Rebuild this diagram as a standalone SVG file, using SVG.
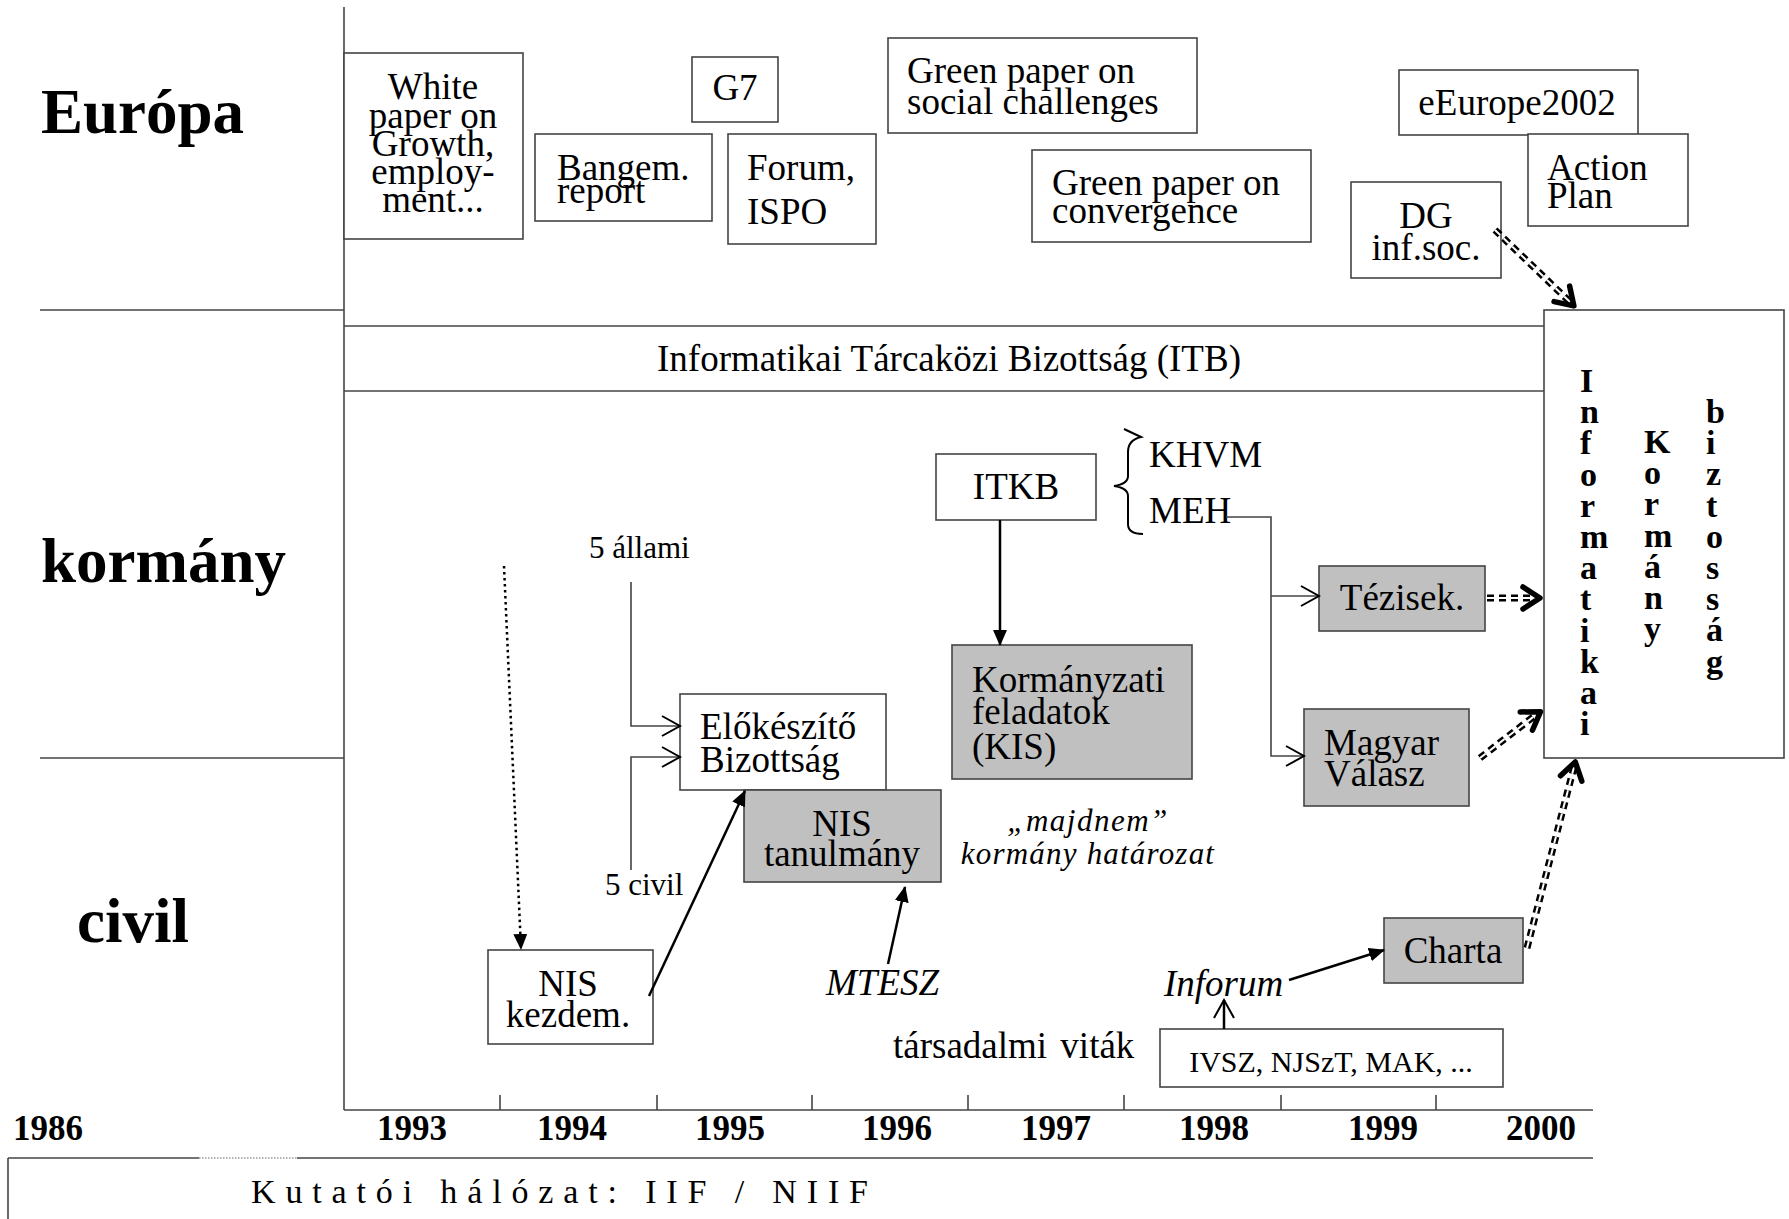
<svg xmlns="http://www.w3.org/2000/svg" width="1789" height="1219" viewBox="0 0 1789 1219">
<defs>
<style>
text{font-family:"Liberation Serif","Times New Roman",serif;fill:#000}
.t{font-size:37px}
.s{font-size:31px}
.lab{font-size:63px;font-weight:bold}
.yr{font-size:35px;font-weight:bold;text-anchor:middle}
.v{font-size:34px;font-weight:bold}
.it{font-style:italic}
.box{fill:#fff;stroke:#444;stroke-width:1.6}
.gbox{fill:#c0c0c0;stroke:#444;stroke-width:1.6}
.ln{fill:none;stroke:#444;stroke-width:1.6}
.arr{fill:none;stroke:#000;stroke-width:2.5}
.dd1{fill:none;stroke:#000;stroke-width:7;stroke-dasharray:7 5}
.dd2{fill:none;stroke:#fff;stroke-width:2;stroke-dasharray:7 5}
</style>
<marker id="tri" markerUnits="userSpaceOnUse" markerWidth="16" markerHeight="14" viewBox="0 0 16 14" refX="15" refY="7" orient="auto"><path d="M0,0 L16,7 L0,14 z" fill="#000"/></marker>
<marker id="open" markerUnits="userSpaceOnUse" markerWidth="22" markerHeight="24" viewBox="-20 -12 22 24" refX="0" refY="0" orient="auto"><path d="M-18,-10 L0,0 L-18,10" fill="none" stroke="#000" stroke-width="2"/></marker>
<marker id="chev" markerUnits="userSpaceOnUse" markerWidth="32" markerHeight="32" viewBox="-26 -16 32 32" refX="0" refY="0" orient="auto"><path d="M-20,-11 L-3,0 L-20,11" fill="none" stroke="#000" stroke-width="5.5" stroke-linecap="round" stroke-linejoin="round"/></marker>
</defs>
<rect width="1789" height="1219" fill="#fff"/>

<g id="frame">
<line class="ln" x1="344" y1="7" x2="344" y2="1110"/>
<line class="ln" x1="40" y1="310" x2="344" y2="310"/>
<line class="ln" x1="40" y1="758" x2="344" y2="758"/>
<line class="ln" x1="344" y1="1110" x2="1593" y2="1110"/>
<g class="ln">
<line x1="500" y1="1095" x2="500" y2="1110"/>
<line x1="657" y1="1095" x2="657" y2="1110"/>
<line x1="812" y1="1095" x2="812" y2="1110"/>
<line x1="968" y1="1095" x2="968" y2="1110"/>
<line x1="1124" y1="1095" x2="1124" y2="1110"/>
<line x1="1281" y1="1095" x2="1281" y2="1110"/>
<line x1="1436" y1="1095" x2="1436" y2="1110"/>
</g>
<line class="ln" x1="8" y1="1158" x2="199" y2="1158"/>
<line x1="199" y1="1158" x2="297" y2="1158" stroke="#999" stroke-width="1.6" stroke-dasharray="1.5 1.5"/>
<line class="ln" x1="297" y1="1158" x2="1593" y2="1158"/>
<line class="ln" x1="8" y1="1158" x2="8" y2="1219"/>
</g>

<g id="labels">
<text class="lab" x="41" y="133">Európa</text>
<text class="lab" x="41" y="582">kormány</text>
<text class="lab" x="77" y="942">civil</text>
<text class="yr" x="48" y="1140">1986</text>
<text class="yr" x="412" y="1140">1993</text>
<text class="yr" x="572" y="1140">1994</text>
<text class="yr" x="730" y="1140">1995</text>
<text class="yr" x="897" y="1140">1996</text>
<text class="yr" x="1056" y="1140">1997</text>
<text class="yr" x="1214" y="1140">1998</text>
<text class="yr" x="1383" y="1140">1999</text>
<text class="yr" x="1541" y="1140">2000</text>
<text x="251" y="1203" style="font-size:34px" textLength="617" lengthAdjust="spacing">Kutatói hálózat: IIF / NIIF</text>
</g>

<g id="white-paper">
<rect class="box" x="344" y="53" width="179" height="186"/>
<text class="t" text-anchor="middle"><tspan x="433" y="99">White</tspan><tspan x="433" y="128">paper on</tspan><tspan x="433" y="156">Growth,</tspan><tspan x="433" y="184">employ-</tspan><tspan x="433" y="212">ment...</tspan></text>
</g>
<g id="bangem">
<rect class="box" x="535" y="134" width="177" height="87"/>
<text class="t"><tspan x="557" y="180">Bangem.</tspan><tspan x="557" y="203">report</tspan></text>
</g>
<g id="g7">
<rect class="box" x="692" y="57" width="86" height="65"/>
<text class="t" x="735" y="100" text-anchor="middle">G7</text>
</g>
<g id="forum">
<rect class="box" x="728" y="134" width="148" height="110"/>
<text class="t"><tspan x="747" y="180">Forum,</tspan><tspan x="747" y="224">ISPO</tspan></text>
</g>
<g id="green-social">
<rect class="box" x="888" y="38" width="309" height="95"/>
<text class="t"><tspan x="907" y="83">Green paper on</tspan><tspan x="907" y="114">social challenges</tspan></text>
</g>
<g id="green-conv">
<rect class="box" x="1032" y="150" width="279" height="92"/>
<text class="t"><tspan x="1052" y="195">Green paper on</tspan><tspan x="1052" y="223">convergence</tspan></text>
</g>
<g id="eeurope">
<rect class="box" x="1399" y="70" width="239" height="65"/>
<text class="t" x="1517" y="115" text-anchor="middle">eEurope2002</text>
</g>
<g id="action-plan">
<rect class="box" x="1528" y="134" width="160" height="92"/>
<text class="t"><tspan x="1547" y="180">Action</tspan><tspan x="1547" y="208">Plan</tspan></text>
</g>
<g id="dg">
<rect class="box" x="1351" y="182" width="150" height="96"/>
<text class="t" text-anchor="middle"><tspan x="1426" y="228">DG</tspan><tspan x="1426" y="260">inf.soc.</tspan></text>
</g>

<g id="itb">
<line class="ln" x1="344" y1="326" x2="1544" y2="326"/>
<line class="ln" x1="344" y1="391" x2="1544" y2="391"/>
<text class="t" x="949" y="371" text-anchor="middle">Informatikai Tárcaközi Bizottság (ITB)</text>
</g>

<g id="ikb">
<rect class="box" x="1544" y="310" width="240" height="448"/>
<text class="v"><tspan x="1580" y="392">I</tspan><tspan x="1580" dy="31.2">n</tspan><tspan x="1580" dy="31.2">f</tspan><tspan x="1580" dy="31.2">o</tspan><tspan x="1580" dy="31.2">r</tspan><tspan x="1580" dy="31.2">m</tspan><tspan x="1580" dy="31.2">a</tspan><tspan x="1580" dy="31.2">t</tspan><tspan x="1580" dy="31.2">i</tspan><tspan x="1580" dy="31.2">k</tspan><tspan x="1580" dy="31.2">a</tspan><tspan x="1580" dy="31.2">i</tspan></text>
<text class="v"><tspan x="1644" y="453">K</tspan><tspan x="1644" dy="31.2">o</tspan><tspan x="1644" dy="31.2">r</tspan><tspan x="1644" dy="31.2">m</tspan><tspan x="1644" dy="31.2">á</tspan><tspan x="1644" dy="31.2">n</tspan><tspan x="1644" dy="31.2">y</tspan></text>
<text class="v"><tspan x="1706" y="423">b</tspan><tspan x="1706" dy="31.2">i</tspan><tspan x="1706" dy="31.2">z</tspan><tspan x="1706" dy="31.2">t</tspan><tspan x="1706" dy="31.2">o</tspan><tspan x="1706" dy="31.2">s</tspan><tspan x="1706" dy="31.2">s</tspan><tspan x="1706" dy="31.2">á</tspan><tspan x="1706" dy="31.2">g</tspan></text>
</g>

<g id="itkb">
<rect class="box" x="936" y="454" width="160" height="66"/>
<text class="t" x="1016" y="499" text-anchor="middle">ITKB</text>
</g>
<g id="khvm-meh">
<path d="M1124,429 L1141,437 Q1128,440 1128,452 L1128,476 Q1128,484 1114,486 Q1128,488 1128,496 L1128,524 Q1128,534 1143,534" fill="none" stroke="#000" stroke-width="2"/>
<text class="t" x="1149" y="467">KHVM</text>
<text class="t" x="1149" y="523">MEH</text>
</g>
<g id="kormanyzati">
<rect class="gbox" x="952" y="645" width="240" height="134"/>
<text class="t"><tspan x="972" y="692">Kormányzati</tspan><tspan x="972" y="724">feladatok</tspan><tspan x="972" y="759">(KIS)</tspan></text>
</g>
<g id="tezisek">
<rect class="gbox" x="1319" y="566" width="166" height="65"/>
<text class="t" x="1402" y="610" text-anchor="middle">Tézisek.</text>
</g>
<g id="magyar">
<rect class="gbox" x="1304" y="709" width="165" height="97"/>
<text class="t"><tspan x="1324" y="755">Magyar</tspan><tspan x="1324" y="786">Válasz</tspan></text>
</g>
<g id="elokeszito">
<rect class="box" x="680" y="694" width="206" height="96"/>
<text class="t"><tspan x="700" y="739">Előkészítő</tspan><tspan x="700" y="772">Bizottság</tspan></text>
</g>
<g id="nis-tanulmany">
<rect class="gbox" x="744" y="790" width="197" height="92"/>
<text class="t" text-anchor="middle"><tspan x="842" y="836">NIS</tspan><tspan x="842" y="866">tanulmány</tspan></text>
</g>
<g id="nis-kezdem">
<rect class="box" x="488" y="950" width="165" height="94"/>
<text class="t" text-anchor="middle"><tspan x="568" y="996">NIS</tspan><tspan x="568" y="1027">kezdem.</tspan></text>
</g>
<g id="annotations">
<text class="s" x="589" y="558">5 állami</text>
<text class="s" x="605" y="895">5 civil</text>
<text class="t it" x="826" y="995">MTESZ</text>
<text class="s it" x="1088" y="831" text-anchor="middle" style="letter-spacing:1.5px">„majdnem”</text>
<text class="s it" x="1088" y="864" text-anchor="middle" style="letter-spacing:1.2px">kormány határozat</text>
<text class="t" x="893" y="1058" style="word-spacing:4px">társadalmi viták</text>
<text class="t it" x="1164" y="996">Inforum</text>
</g>
<g id="charta">
<rect class="gbox" x="1384" y="918" width="139" height="65"/>
<text class="t" x="1453" y="963" text-anchor="middle">Charta</text>
</g>
<g id="ivsz">
<rect class="box" x="1160" y="1029" width="343" height="58"/>
<text x="1331" y="1072" text-anchor="middle" style="font-size:30px">IVSZ, NJSzT, MAK, ...</text>
</g>

<g id="connectors">
<path d="M504,566 L521,949" fill="none" stroke="#000" stroke-width="2.5" stroke-dasharray="2.5 3.5" marker-end="url(#tri)"/>
<path class="ln" d="M631,582 L631,726 L680,726" stroke="#000" marker-end="url(#open)"/>
<path class="ln" d="M631,870 L631,757 L680,757" stroke="#000" marker-end="url(#open)"/>
<path class="arr" d="M649,996 L745,791" marker-end="url(#tri)"/>
<path class="arr" d="M888,964 L905,887" marker-end="url(#tri)"/>
<path class="arr" d="M1000,520 L1000,645" stroke-width="2" marker-end="url(#tri)"/>
<path class="ln" d="M1226,517 L1271,517 L1271,756 L1304,756" marker-end="url(#open)"/>
<path class="ln" d="M1271,596 L1319,596" marker-end="url(#open)"/>
<path class="arr" d="M1224,1029 L1224,1000" stroke-width="2" marker-end="url(#open)"/>
<path class="arr" d="M1289,980 L1384,950" marker-end="url(#tri)"/>
<path class="dd1" d="M1487,598 L1536,598"/>
<path class="dd2" d="M1487,598 L1536,598"/>
<path d="M1536,598 L1543,598" fill="none" stroke="none" marker-end="url(#chev)"/>
<path class="dd1" d="M1480,758 L1537,714"/>
<path class="dd2" d="M1480,758 L1537,714"/>
<path d="M1537,714 L1543,710" fill="none" stroke="none" marker-end="url(#chev)"/>
<path class="dd1" d="M1527,948 L1574,767"/>
<path class="dd2" d="M1527,948 L1574,767"/>
<path d="M1574,767 L1576,759" fill="none" stroke="none" marker-end="url(#chev)"/>
<path class="dd1" d="M1495,230 L1570,302"/>
<path class="dd2" d="M1495,230 L1570,302"/>
<path d="M1570,302 L1576,308" fill="none" stroke="none" marker-end="url(#chev)"/>
</g>
</svg>
